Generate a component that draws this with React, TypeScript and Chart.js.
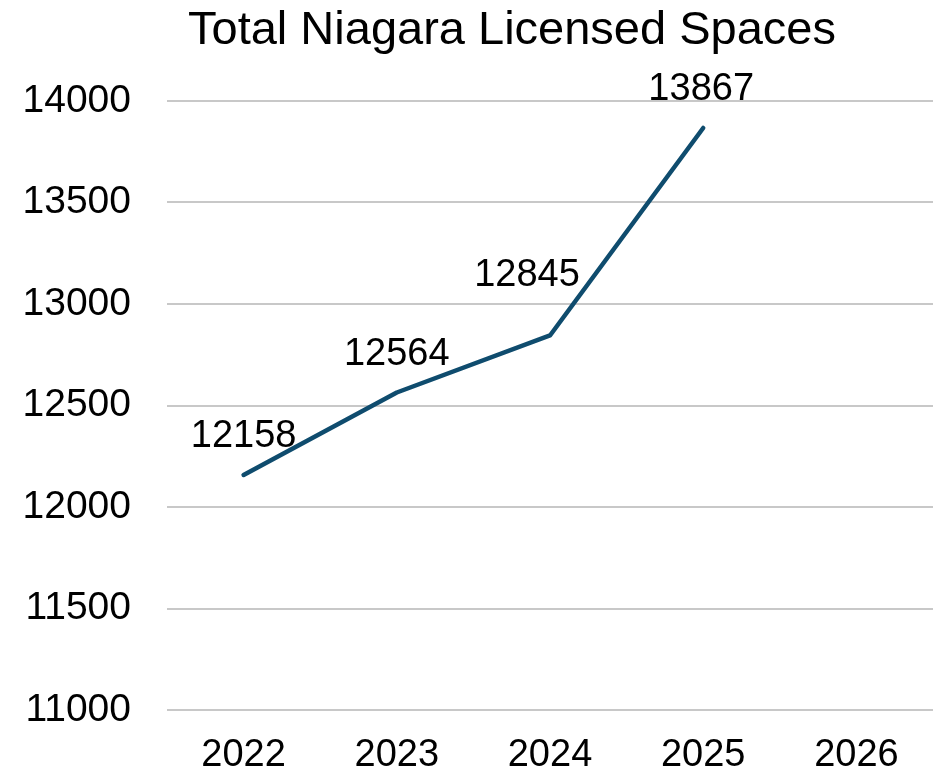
import React, { useEffect, useRef } from "react";
import { Chart, registerables } from "chart.js";

Chart.register(...registerables);

const chartTitle = "Total Niagara Licensed Spaces";
const categories = ["2022", "2023", "2024", "2025", "2026"];
const licensedSpaces: (number | null)[] = [12158, 12564, 12845, 13867, null];
const yMin = 11000;
const yMax = 14000;
const yStep = 500;

const FONT = '"Liberation Sans", Arial, sans-serif';
const LINE_COLOR = "#0f4c6e";

// per-point label placement (style only)
const labelOffsets = [
  { dx: 0, dy: -38 },
  { dx: 0, dy: -38 },
  { dx: -23, dy: -60 },
  { dx: -2, dy: -38 },
  { dx: 0, dy: -38 },
];

const pointLabelPlugin = {
  id: "pointLabels",
  afterDatasetsDraw(chart: any) {
    const ctx = chart.ctx;
    const meta = chart.getDatasetMeta(0);
    ctx.save();
    ctx.font = `38px ${FONT}`;
    ctx.fillStyle = "#000000";
    ctx.textAlign = "center";
    ctx.textBaseline = "middle";
    meta.data.forEach((el: any, i: number) => {
      const v = licensedSpaces[i];
      if (v == null) return;
      const off = labelOffsets[i];
      ctx.fillText(String(v), el.x + off.dx, el.y + off.dy);
    });
    ctx.restore();
  },
};

const titlePlugin = {
  id: "customTitle",
  afterDraw(chart: any) {
    const ctx = chart.ctx;
    ctx.save();
    ctx.font = `47px ${FONT}`;
    ctx.fillStyle = "#000000";
    ctx.textAlign = "center";
    ctx.textBaseline = "alphabetic";
    ctx.fillText(chartTitle, 512, 44);
    ctx.restore();
  },
};

export default function App() {
  const ref = useRef<HTMLCanvasElement | null>(null);

  useEffect(() => {
    if (!ref.current) return;
    const chart = new Chart(ref.current, {
      type: "line",
      data: {
        labels: categories,
        datasets: [
          {
            label: chartTitle,
            data: licensedSpaces,
            borderColor: LINE_COLOR,
            backgroundColor: LINE_COLOR,
            borderWidth: 4.5,
            borderCapStyle: "round",
            borderJoinStyle: "round",
            pointRadius: 0,
            pointHoverRadius: 0,
            tension: 0,
            fill: false,
          },
        ],
      },
      options: {
        responsive: false,
        animation: false,
        layout: { padding: { left: 0, right: 11, top: 101, bottom: 0 } },
        plugins: {
          legend: { display: false },
          tooltip: { enabled: false },
          title: { display: false },
        },
        scales: {
          x: {
            type: "category",
            offset: true,
            grid: { display: false, drawTicks: false },
            border: { display: false },
            ticks: {
              color: "#000000",
              font: { family: FONT, size: 38 },
              padding: 23,
              maxRotation: 0,
            },
            afterFit: (s: any) => {
              s.height = 64;
            },
          },
          y: {
            min: yMin,
            max: yMax,
            grid: { color: "#c8c8c8", lineWidth: 2, drawTicks: false },
            border: { display: false },
            ticks: {
              stepSize: yStep,
              color: "#000000",
              font: { family: FONT, size: 39 },
              padding: 36,
              callback: (v: any) => String(v),
            },
            afterFit: (s: any) => {
              s.width = 167;
            },
          },
        },
      },
      plugins: [pointLabelPlugin, titlePlugin],
    });
    return () => chart.destroy();
  }, []);

  return (
    <div style={{ position: "absolute", left: 0, top: 0, width: 944, height: 774, background: "#fff" }}>
      <canvas ref={ref} width={944} height={774} style={{ display: "block" }} />
    </div>
  );
}
